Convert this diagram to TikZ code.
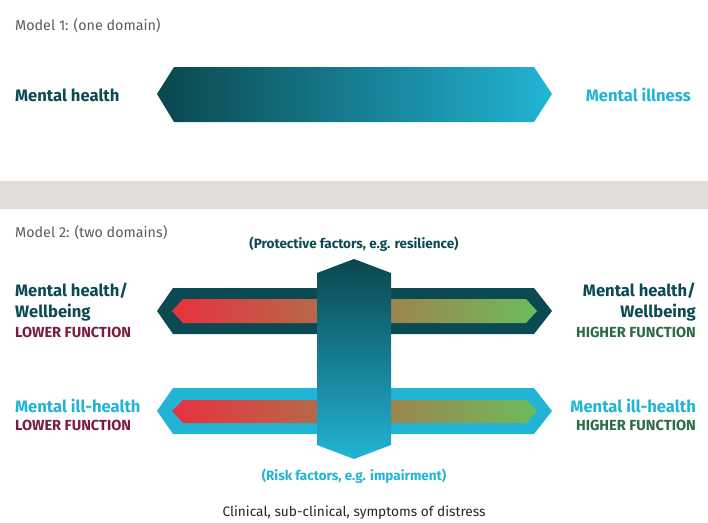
\documentclass[tikz,border=0pt]{standalone}
\usepackage{fontspec}
\setmainfont{Fira Sans}
\usepackage{xcolor}
\usetikzlibrary{positioning}

% colours of the figure
\definecolor{darkteal}{HTML}{0B4A52}
\definecolor{barcyan}{HTML}{22B4D4}
\definecolor{bandgrey}{HTML}{E3DDDA}
\definecolor{lowred}{HTML}{7B1D3B}
\definecolor{highgreen}{HTML}{2D6B48}
\definecolor{redend}{HTML}{E8313F}
\definecolor{midtan}{HTML}{C0834C}
\definecolor{greenend}{HTML}{6CBC5A}
\definecolor{titlegrey}{HTML}{5A5A5A}

\tikzset{
  title/.style={inner sep=0pt, anchor=base west, text=titlegrey, font=\fontsize{14.3}{17}\selectfont},
  label/.style={inner sep=0pt, font=\bfseries\fontsize{16.6}{19}\selectfont},
  func/.style={inner sep=0pt, font=\bfseries\fontsize{14.6}{17}\selectfont},
  note/.style={inner sep=0pt, anchor=base, font=\bfseries\fontsize{13.5}{16}\selectfont}
}

\begin{document}
\begin{tikzpicture}[x=1pt, y=-1pt]
    \useasboundingbox (0,0) rectangle (708,522);

    % --- MODEL 1 ---
    \node[title] (m1) at (15,30) {Model 1: (one domain)};
    \shade[left color=darkteal!95!black, right color=barcyan]
        (157,94) -- (174,67) -- (534,67) -- (552,94) -- (534,122) -- (174,122) -- cycle;
    \node[label, anchor=base west, text=darkteal] (mh) at (15,101) {Mental health};
    \node[label, anchor=base east, text=barcyan] (mi) at (691,101) {Mental illness};

    % grey band between the two models
    \fill[bandgrey] (0,181) rectangle (708,209);

    % --- MODEL 2 ---
    \node[title] (m2) at (15,237) {Model 2: (two domains)};

    % upper bar (wellbeing)
    \fill[darkteal] (157,311) -- (173,288) -- (534,288) -- (552,311) -- (534,334) -- (173,334) -- cycle;
    \shade[left color=redend, middle color=midtan, right color=greenend]
        (172,311) -- (183,299) -- (526,299) -- (537,311) -- (526,323) -- (183,323) -- cycle;

    % lower bar (ill-health)
    \fill[barcyan] (157,411) -- (173,388) -- (534,388) -- (552,411) -- (534,434) -- (173,434) -- cycle;
    \shade[left color=redend, middle color=midtan, right color=greenend]
        (172,411) -- (183,400) -- (526,400) -- (537,411) -- (526,423) -- (183,423) -- cycle;

    % vertical bar across both
    \shade[top color=darkteal!95!black, bottom color=barcyan]
        (317,273) -- (354,259) -- (391,273) -- (391,445) -- (354,459) -- (317,445) -- cycle;

    % labels on the left
    \node[label, anchor=base west, text=darkteal] (wl) at (15,296) {Mental health/};
    \node[label, anchor=base west, text=darkteal] (wl2) at (15,317) {Wellbeing};
    \node[func, anchor=base west, text=lowred] (wlf) at (15,337) {LOWER FUNCTION};
    \node[label, anchor=base west, text=barcyan] (il) at (15,412) {Mental ill-health};
    \node[func, anchor=base west, text=lowred] (ilf) at (15,430) {LOWER FUNCTION};

    % labels on the right
    \node[label, anchor=base east, text=darkteal] (wr) at (696,296) {Mental health/};
    \node[label, anchor=base east, text=darkteal] (wr2) at (696,317) {Wellbeing};
    \node[func, anchor=base east, text=highgreen] (wrf) at (696,337) {HIGHER FUNCTION};
    \node[label, anchor=base east, text=barcyan] (ir) at (696,412) {Mental ill-health};
    \node[func, anchor=base east, text=highgreen] (irf) at (696,430) {HIGHER FUNCTION};

    % notes above and below
    \node[note, text=darkteal] (prot) at (354,248) {(Protective factors, e.g. resilience)};
    \node[note, text=barcyan] (risk) at (354,480) {(Risk factors, e.g. impairment)};
    \node[note, text=black!85, font=\fontsize{13.7}{16}\selectfont] (clin) at (354,516) {Clinical, sub-clinical, symptoms of distress};
\end{tikzpicture}
\end{document}
